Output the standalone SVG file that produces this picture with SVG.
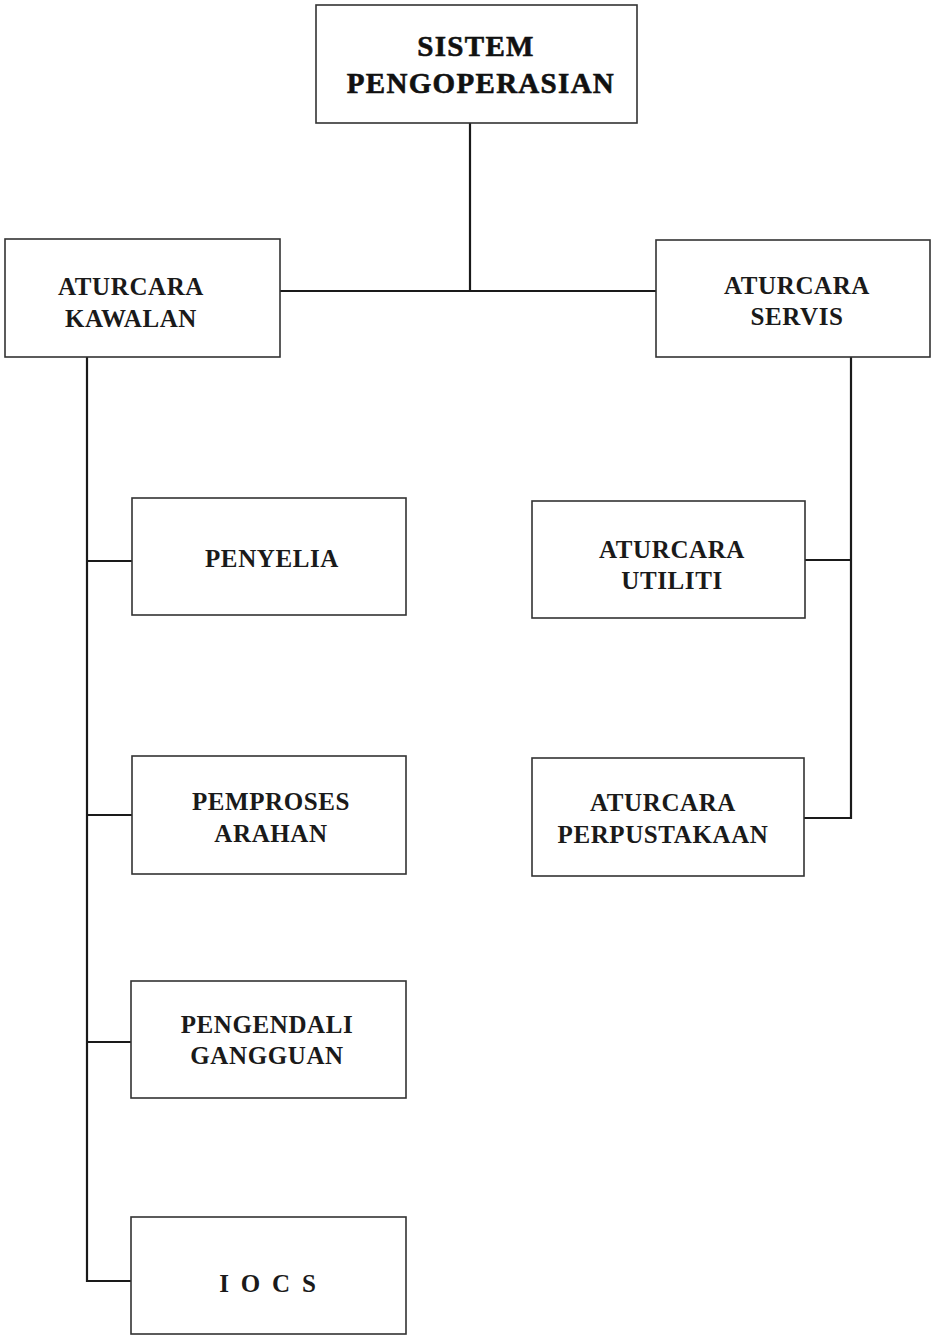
<svg xmlns="http://www.w3.org/2000/svg" width="937" height="1336" viewBox="0 0 937 1336">
<style>
.box{fill:#fff;stroke:#333;stroke-width:1.6}
.t{font-family:"Liberation Serif","Times New Roman",serif;font-weight:bold;font-size:25px;fill:#1a1a1a;text-anchor:middle;letter-spacing:0.6px}
.h{font-family:"Liberation Serif","Times New Roman",serif;font-weight:bold;font-size:29px;fill:#111;text-anchor:middle;letter-spacing:1.3px;stroke:#111;stroke-width:0.6}
.c{fill:none;stroke:#1a1a1a;stroke-width:2.2}
</style>
<rect width="937" height="1336" fill="#fff"/>
<g id="connectors">
<path class="c" d="M470 123V291"/>
<path class="c" d="M280 291H656"/>
<path class="c" d="M87 357V1281H131"/>
<path class="c" d="M87 561H132M87 815H132M87 1042H131"/>
<path class="c" d="M851 357V818H804"/>
<path class="c" d="M805 560H851"/>
</g>
<g id="sistem">
<rect class="box" x="316" y="5" width="321" height="118"/>
<text class="h" x="476" y="56">SISTEM</text>
<text class="h" x="481" y="93">PENGOPERASIAN</text>
</g>
<g id="kawalan">
<rect class="box" x="5" y="239" width="275" height="118"/>
<text class="t" x="131" y="295">ATURCARA</text>
<text class="t" x="131" y="327">KAWALAN</text>
</g>
<g id="servis">
<rect class="box" x="656" y="240" width="274" height="117"/>
<text class="t" x="797" y="294">ATURCARA</text>
<text class="t" x="797" y="325">SERVIS</text>
</g>
<g id="penyelia">
<rect class="box" x="132" y="498" width="274" height="117"/>
<text class="t" x="272" y="567">PENYELIA</text>
</g>
<g id="pemproses">
<rect class="box" x="132" y="756" width="274" height="118"/>
<text class="t" x="271" y="810">PEMPROSES</text>
<text class="t" x="271" y="842">ARAHAN</text>
</g>
<g id="pengendali">
<rect class="box" x="131" y="981" width="275" height="117"/>
<text class="t" x="267" y="1033">PENGENDALI</text>
<text class="t" x="267" y="1064">GANGGUAN</text>
</g>
<g id="iocs">
<rect class="box" x="131" y="1217" width="275" height="117"/>
<text class="t" x="269" y="1292" style="white-space:pre;letter-spacing:2.8px">I O C S</text>
</g>
<g id="utiliti">
<rect class="box" x="532" y="501" width="273" height="117"/>
<text class="t" x="672" y="558">ATURCARA</text>
<text class="t" x="672" y="589">UTILITI</text>
</g>
<g id="perpustakaan">
<rect class="box" x="532" y="758" width="272" height="118"/>
<text class="t" x="663" y="811">ATURCARA</text>
<text class="t" x="663" y="843">PERPUSTAKAAN</text>
</g>
</svg>
